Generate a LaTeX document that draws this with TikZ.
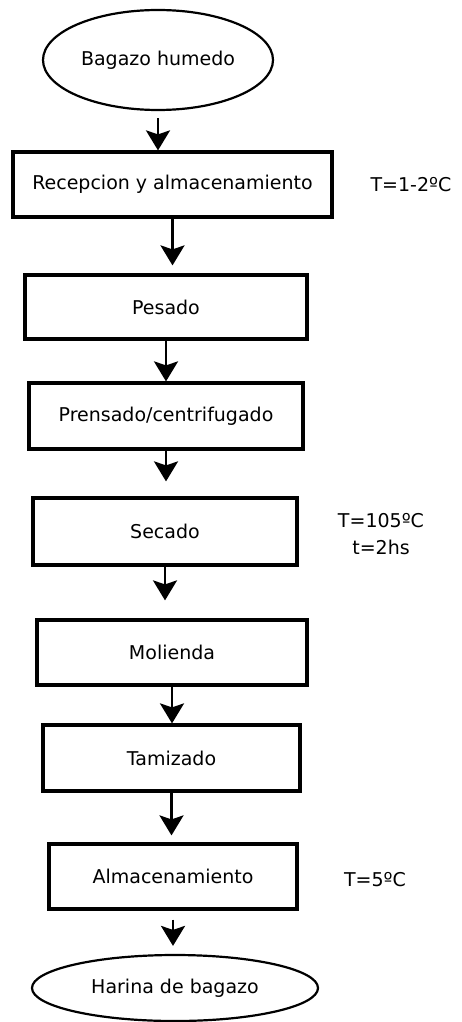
\documentclass[tikz,border=0pt]{standalone}
\usepackage{fontspec}
\setmainfont{DejaVu Sans}
\usetikzlibrary{shapes,arrows.meta}

\begin{document}
\begin{tikzpicture}[x=1pt,y=-1pt,every node/.style={font=\fontsize{19}{27}\selectfont,inner sep=0pt},paso/.style={draw,line width=3.2pt,shape=rectangle},extremo/.style={draw,line width=2.2pt,shape=ellipse},flecha/.style={line width=2.6pt,-{Stealth[width=24pt,length=20pt,inset=4pt]}},nota/.style={align=center}]
\useasboundingbox (0,0) rectangle (462,1022);
\node[extremo,minimum width=230pt,minimum height=100pt] (inicio) at (158,60) {Bagazo humedo};
\node[paso,minimum width=319pt,minimum height=65pt] (recepcion) at (172.5,184.5) {Recepcion y almacenamiento};
\node[paso,minimum width=282pt,minimum height=64pt] (pesado) at (166,307) {Pesado};
\node[paso,minimum width=274pt,minimum height=66pt] (prensado) at (166,416) {Prensado/centrifugado};
\node[paso,minimum width=264pt,minimum height=67pt] (secado) at (165,531.5) {Secado};
\node[paso,minimum width=270pt,minimum height=65pt] (molienda) at (172,652.5) {Molienda};
\node[paso,minimum width=257pt,minimum height=66pt] (tamizado) at (171.5,758) {Tamizado};
\node[paso,minimum width=248pt,minimum height=65pt] (almacen) at (173,876.5) {Almacenamiento};
\node[extremo,minimum width=286pt,minimum height=66pt] (harina) at (175,988) {Harina de bagazo};
\node[nota] (temp1) at (411,185) {T=1-2ºC};
\node[nota] (temp2) at (381,534) {T=105ºC\\t=2hs};
\node[nota] (temp3) at (375,880) {T=5ºC};
\draw[flecha,shorten <=7pt] (inicio.south) -- (inicio.south |- recepcion.north);
\draw[flecha,shorten >=8pt] (recepcion.south) -- (recepcion.south |- pesado.north);
\draw[flecha] (pesado.south) -- (pesado.south |- prensado.north);
\draw[flecha,shorten >=15pt] (prensado.south) -- (prensado.south |- secado.north);
\draw[flecha,shorten >=18pt] (secado.south) -- (secado.south |- molienda.north);
\draw[flecha] (molienda.south) -- (molienda.south |- tamizado.north);
\draw[flecha,shorten >=7pt] (tamizado.south) -- (tamizado.south |- almacen.north);
\draw[flecha,shorten <=9pt,shorten >=8pt] (almacen.south) -- (almacen.south |- harina.north);
\end{tikzpicture}
\end{document}
